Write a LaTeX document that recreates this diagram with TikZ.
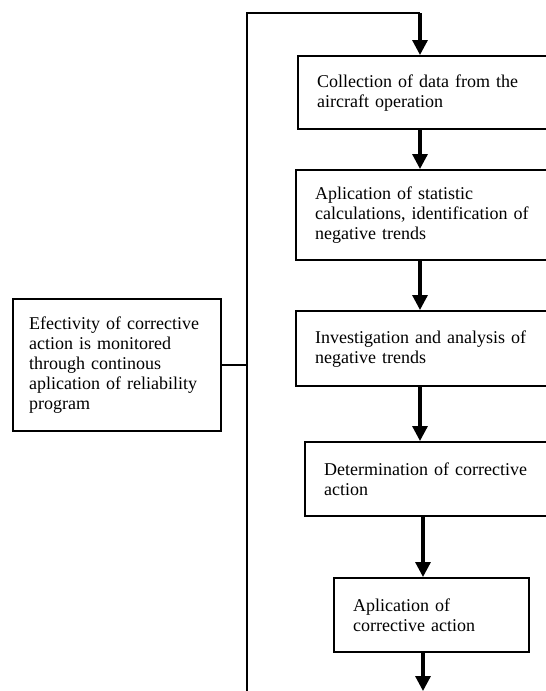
\documentclass[tikz,border=0pt]{standalone}
\usepackage{fontspec}
\setmainfont{Liberation Serif}
\usetikzlibrary{arrows.meta}
\tikzstyle{box}=[draw, line width=2.4pt, anchor=north west, align=left, inner xsep=19pt, inner ysep=0pt, font=\fontsize{18}{20}\selectfont]
\tikzstyle{flow}=[line width=3.2pt, -{Triangle[width=15pt,length=15pt]}]

\begin{document}
\begin{tikzpicture}[x=1pt, y=-1pt]
    \useasboundingbox (0,0) rectangle (546,691);
    \clip (0,0) rectangle (546,691);
% Steps of the program
    \node[box, text width=222pt, minimum height=73pt] (collect) at (297,55) {Collection of data from the\\aircraft operation};
    \node[box, text width=224pt, minimum height=90pt] (stats) at (295,169) {Aplication of statistic\\calculations, identification of\\negative trends};
    \node[box, text width=224pt, minimum height=75pt] (analysis) at (295,310) {Investigation and analysis of\\negative trends};
    \node[box, text width=215pt, minimum height=74pt] (decide) at (304,441) {Determination of corrective\\action};
    \node[box, text width=157pt, minimum height=74pt] (apply) at (333,577) {Aplication of\\corrective action};
% Monitoring
    \node[box, inner xsep=16pt, text width=176pt, minimum height=132pt] (monitor) at (12,298) {Efectivity of corrective\\action is monitored\\through continous\\aplication of reliability\\program};
% Feedback loop
    \coordinate (top) at (247,13);
    \coordinate (base) at (247,691);
    \coordinate (a) at (420,0);
    \coordinate (b) at (423,0);
    \draw[line width=2.4pt] (base) -- (top) -- (top -| a);
    \draw[line width=1.6pt] (monitor.east) -- (monitor.east -| top);
% Flow arrows
    \draw[flow] (top -| a) -- (a |- collect.north);
    \draw[flow] (a |- collect.south) -- (a |- stats.north);
    \draw[flow] (a |- stats.south) -- (a |- analysis.north);
    \draw[flow] (a |- analysis.south) -- (a |- decide.north);
    \draw[flow] (b |- decide.south) -- (b |- apply.north);
    \draw[flow] (b |- apply.south) -- (b |- base);
\end{tikzpicture}
\end{document}
